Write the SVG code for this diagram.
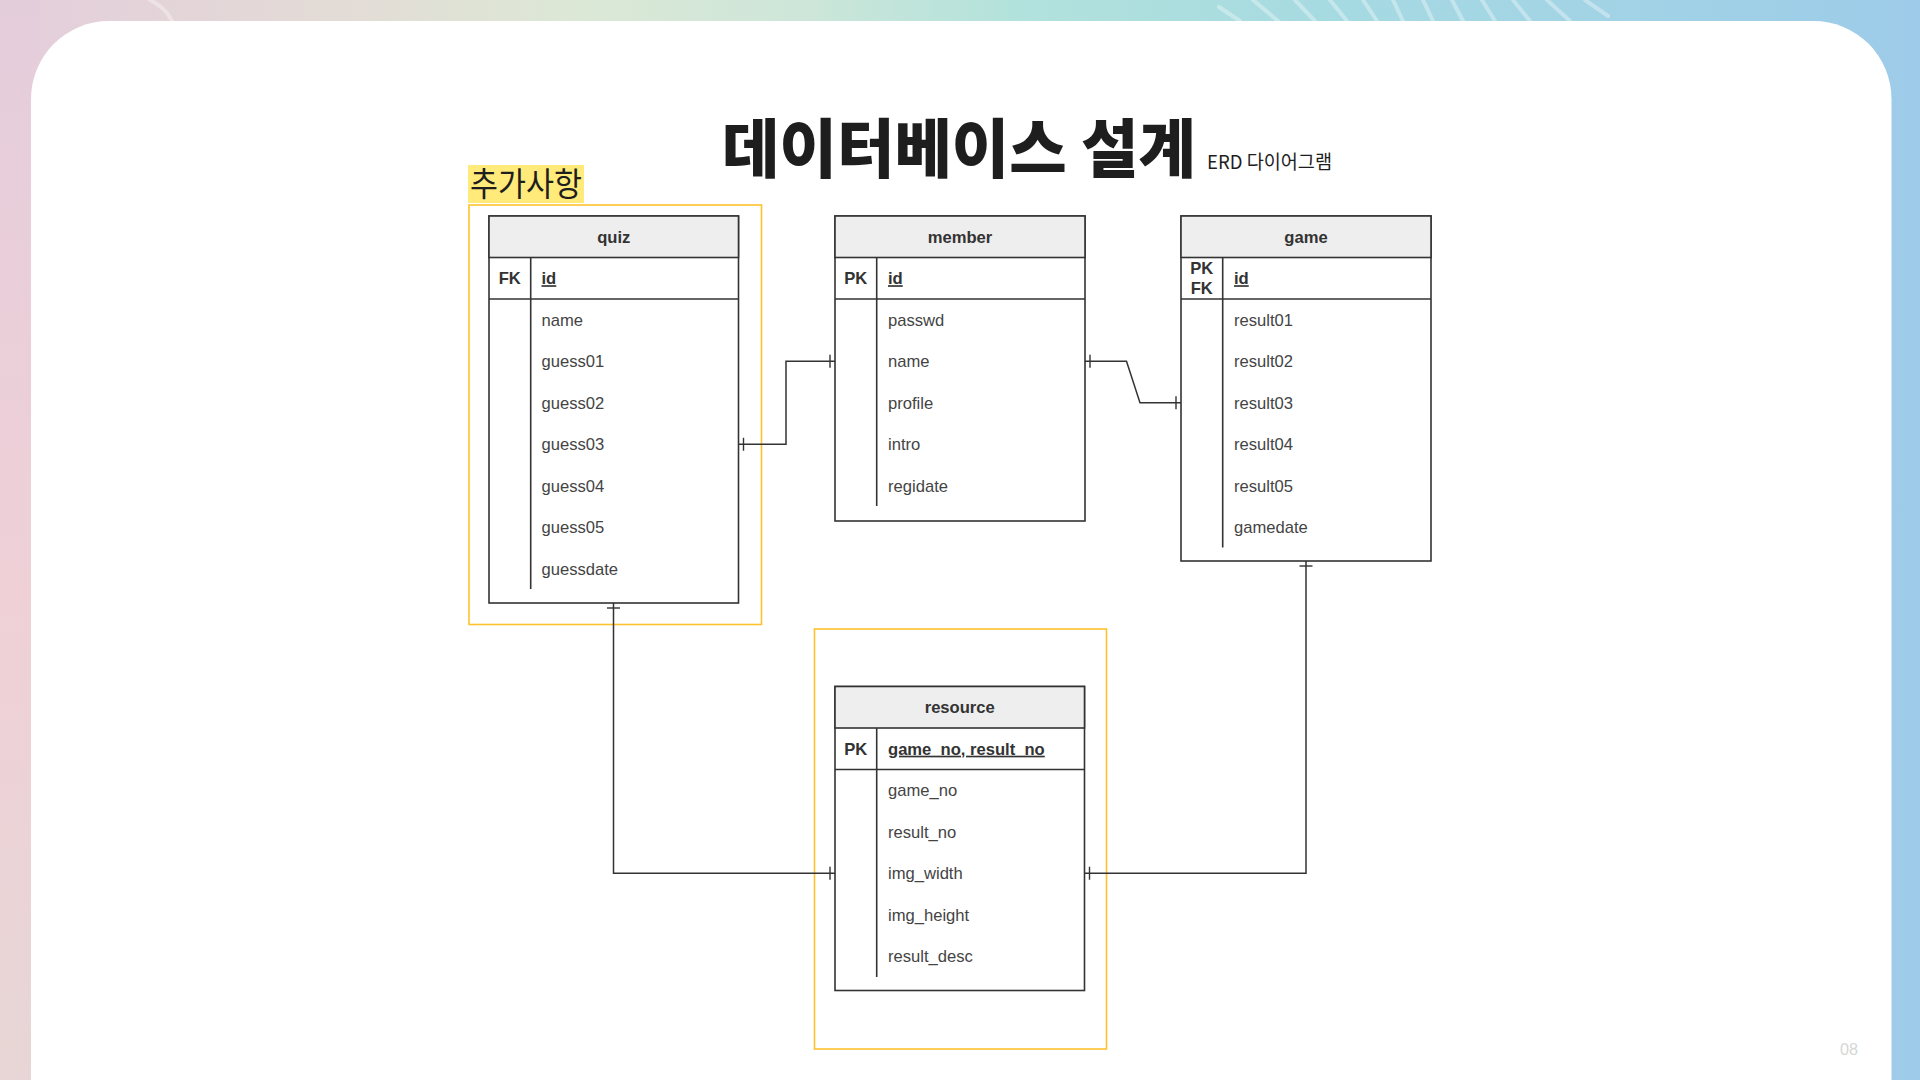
<svg xmlns="http://www.w3.org/2000/svg" width="1920" height="1080" viewBox="0 0 1920 1080">
<defs>
<linearGradient id="bg" x1="0" y1="0" x2="1920" y2="0" gradientUnits="userSpaceOnUse">
<stop offset="0" stop-color="#E4CDDB"/>
<stop offset="0.18" stop-color="#E3DCD6"/>
<stop offset="0.3" stop-color="#DCE8D6"/>
<stop offset="0.42" stop-color="#CDE6D9"/>
<stop offset="0.53" stop-color="#B2E2DC"/>
<stop offset="0.7" stop-color="#A6DAE2"/>
<stop offset="1" stop-color="#9DCBE9"/>
</linearGradient>
<linearGradient id="leftstrip" x1="0" y1="0" x2="0" y2="1080" gradientUnits="userSpaceOnUse">
<stop offset="0" stop-color="#E4CDDB"/>
<stop offset="0.55" stop-color="#EFD0D7"/>
<stop offset="1" stop-color="#E7D6D5"/>
</linearGradient>
<marker id="tick" viewBox="-10 -10 20 20" refX="0" refY="0" markerUnits="userSpaceOnUse" markerWidth="20" markerHeight="20" orient="auto-start-reverse">
<path d="M-5,-6.5 L-5,6.5" stroke="#333333" stroke-width="1.4" fill="none"/>
</marker>
</defs>
<style>
.tbl{fill:#FFFFFF;stroke:#333333;stroke-width:1.6}
.hdr{fill:#EEEEEE;stroke:#333333;stroke-width:1.6}
.ln{stroke:#333333;stroke-width:1.6;fill:none}
.htxt{font-family:"Liberation Sans",Arial,sans-serif;font-size:16.6px;font-weight:bold;fill:#333333;text-anchor:middle}
.key{font-family:"Liberation Sans",Arial,sans-serif;font-size:16.6px;font-weight:bold;fill:#333333;text-anchor:middle}
.pk{font-family:"Liberation Sans",Arial,sans-serif;font-size:16.6px;font-weight:bold;fill:#333333;text-decoration:underline}
.fld{font-family:"Liberation Sans",Arial,sans-serif;font-size:16.6px;fill:#444444}
.conn{stroke:#333333;stroke-width:1.5;fill:none;marker-start:url(#tick);marker-end:url(#tick)}
.hl{fill:none;stroke:#FFC22E;stroke-width:1.6}
.deco{stroke:#FFFFFF;stroke-opacity:0.35;stroke-width:4;fill:none;stroke-linecap:round}
</style>

<!-- background -->
<rect x="0" y="0" width="1920" height="1080" fill="url(#bg)"/>
<rect x="0" y="0" width="40" height="1080" fill="url(#leftstrip)"/>
<g class="deco">
<path d="M150,0 Q166,8 172,21"/>
<path d="M1219,7 L1240,21"/>
<path d="M1253,0 L1278,21"/>
<path d="M1295,0 L1315,21"/>
<path d="M1330,0 L1347,21"/>
<path d="M1363,0 L1377,21"/>
<path d="M1393,0 L1403,21"/>
<path d="M1423,0 L1433,21"/>
<path d="M1452,0 L1463,21"/>
<path d="M1482,0 L1495,21"/>
<path d="M1513,0 L1530,21"/>
<path d="M1547,0 L1570,21"/>
<path d="M1585,0 L1608,16"/>
</g>
<path d="M31,1080 V99 A78,78 0 0 1 109,21 H1813.5 A78,78 0 0 1 1891.5,99 V1080 Z" fill="#FFFFFF"/>

<!-- title -->
<text x="722" y="172" font-family="'Noto Sans CJK KR',sans-serif" font-weight="900" font-size="64" fill="#1E1E1E" textLength="474" lengthAdjust="spacingAndGlyphs">데이터베이스 설계</text>
<text x="1207" y="169" font-family="'Noto Sans CJK KR',sans-serif" font-weight="400" font-size="19" fill="#1E1E1E" textLength="125" lengthAdjust="spacingAndGlyphs">ERD 다이어그램</text>
<text x="1840" y="1055" font-family="'Liberation Sans',Arial,sans-serif" font-size="17" fill="#D6D6D6" textLength="18" lengthAdjust="spacingAndGlyphs">08</text>

<!-- highlight -->
<g id="note">
<rect x="468" y="165" width="116" height="38" fill="#FFEA7A"/>
<text x="470" y="196" font-family="'Noto Sans CJK KR',sans-serif" font-weight="400" font-size="33" fill="#1E1E1E" textLength="112" lengthAdjust="spacingAndGlyphs">추가사항</text>
<rect class="hl" x="469" y="205" width="292.5" height="419.5"/>
</g>
<rect class="hl" x="814.5" y="629" width="292" height="420"/>

<!-- connectors -->
<g id="connectors">
<path class="conn" d="M738.5,444.25 H786 V361.25 H835"/>
<path class="conn" d="M1085,361.25 H1126.5 L1140,402.75 H1181"/>
<path class="conn" d="M613.5,603 V873.25 H835"/>
<path class="conn" d="M1306,561 V873.25 H1084.5"/>
</g>

<!-- quiz -->
<g id="quiz">
<rect class="tbl" x="489" y="216" width="249.5" height="387"/>
<rect class="hdr" x="489" y="216" width="249.5" height="41.5"/>
<text class="htxt" x="613.75" y="242.5">quiz</text>
<line class="ln" x1="489" y1="299" x2="738.5" y2="299"/>
<line class="ln" x1="530.7" y1="257.5" x2="530.7" y2="589"/>
<text class="key" x="509.8" y="284.2">FK</text>
<text class="pk" x="541.5" y="284.2">id</text>
<text class="fld" x="541.5" y="325.7">name</text>
<text class="fld" x="541.5" y="367.2">guess01</text>
<text class="fld" x="541.5" y="408.7">guess02</text>
<text class="fld" x="541.5" y="450.2">guess03</text>
<text class="fld" x="541.5" y="491.7">guess04</text>
<text class="fld" x="541.5" y="533.2">guess05</text>
<text class="fld" x="541.5" y="574.7">guessdate</text>
</g>

<!-- member -->
<g id="member">
<rect class="tbl" x="835" y="216" width="250" height="305"/>
<rect class="hdr" x="835" y="216" width="250" height="41.5"/>
<text class="htxt" x="960" y="242.5">member</text>
<line class="ln" x1="835" y1="299" x2="1085" y2="299"/>
<line class="ln" x1="876.7" y1="257.5" x2="876.7" y2="506"/>
<text class="key" x="855.8" y="284.2">PK</text>
<text class="pk" x="888" y="284.2">id</text>
<text class="fld" x="888" y="325.7">passwd</text>
<text class="fld" x="888" y="367.2">name</text>
<text class="fld" x="888" y="408.7">profile</text>
<text class="fld" x="888" y="450.2">intro</text>
<text class="fld" x="888" y="491.7">regidate</text>
</g>

<!-- game -->
<g id="game">
<rect class="tbl" x="1181" y="216" width="250" height="345"/>
<rect class="hdr" x="1181" y="216" width="250" height="41.5"/>
<text class="htxt" x="1306" y="242.5">game</text>
<line class="ln" x1="1181" y1="299" x2="1431" y2="299"/>
<line class="ln" x1="1222.7" y1="257.5" x2="1222.7" y2="547.5"/>
<text class="key" x="1201.8" y="274">PK</text>
<text class="key" x="1201.8" y="294">FK</text>
<text class="pk" x="1234" y="284.2">id</text>
<text class="fld" x="1234" y="325.7">result01</text>
<text class="fld" x="1234" y="367.2">result02</text>
<text class="fld" x="1234" y="408.7">result03</text>
<text class="fld" x="1234" y="450.2">result04</text>
<text class="fld" x="1234" y="491.7">result05</text>
<text class="fld" x="1234" y="533.2">gamedate</text>
</g>

<!-- resource -->
<g id="resource">
<rect class="tbl" x="835" y="686.5" width="249.5" height="304"/>
<rect class="hdr" x="835" y="686.5" width="249.5" height="41.5"/>
<text class="htxt" x="959.75" y="713">resource</text>
<line class="ln" x1="835" y1="769.5" x2="1084.5" y2="769.5"/>
<line class="ln" x1="876.7" y1="728" x2="876.7" y2="977"/>
<text class="key" x="855.8" y="754.7">PK</text>
<text class="pk" x="888" y="754.7">game_no, result_no</text>
<text class="fld" x="888" y="796.2">game_no</text>
<text class="fld" x="888" y="837.7">result_no</text>
<text class="fld" x="888" y="879.2">img_width</text>
<text class="fld" x="888" y="920.7">img_height</text>
<text class="fld" x="888" y="962.2">result_desc</text>
</g>
</svg>
